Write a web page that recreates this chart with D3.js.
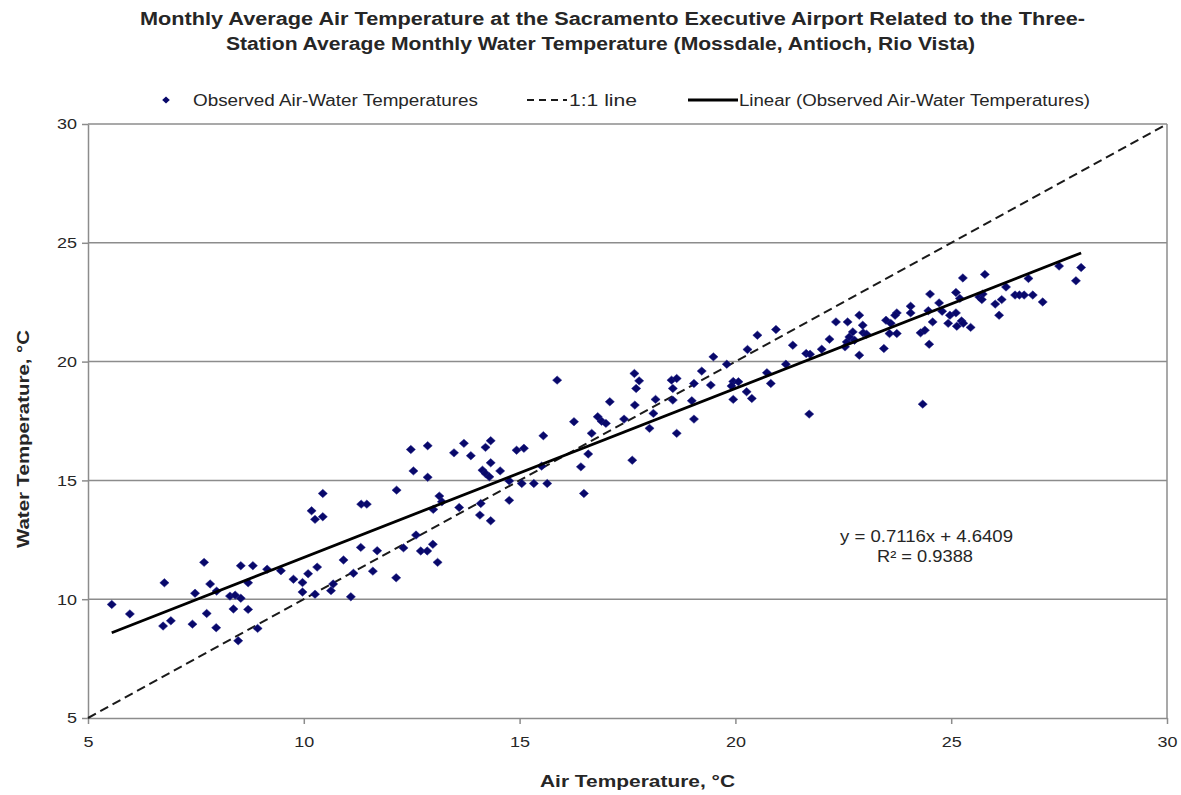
<!DOCTYPE html>
<html><head><meta charset="utf-8">
<script src="https://cdn.jsdelivr.net/npm/d3@7"></script>
<style>
body{margin:0;background:#fff;}
text{font-family:"Liberation Sans",Arial,sans-serif;}
</style></head><body>
<svg id="c" width="1181" height="795"></svg>
<script>
const airTemp = [5.55,5.97,6.77,6.74,6.92,7.69,7.83,7.48,7.98,7.42,7.75,7.97,8.29,8.41,8.54,8.37,8.71,8.48,8.54,8.82,8.71,8.93,9.15,9.47,9.76,
9.97,9.97,10.10,10.31,10.26,10.68,10.63,11.09,11.15,10.92,11.60,11.32,11.70,12.14,12.31,12.60,12.71,12.86,12.99,13.10,
10.18,10.26,10.44,10.44,11.33,11.46,12.15,12.48,12.54,12.87,12.87,13.00,13.14,13.20,13.48,13.60,13.71,13.87,14.10,14.08,14.33,
14.14,14.21,14.30,14.33,14.21,14.33,14.55,14.76,14.76,14.93,15.10,15.05,15.33,15.64,15.55,15.51,
15.87,16.26,16.42,16.49,16.59,16.67,16.81,16.90,17.00,17.09,17.42,17.61,17.66,17.77,17.70,17.67,18.01,18.10,18.15,18.52,18.64,18.55,18.55,18.64,
18.99,19.04,19.04,19.22,19.43,19.49,19.80,19.95,20.07,19.91,19.95,20.26,20.28,
20.38,20.51,20.73,20.82,20.94,21.17,21.33,21.64,21.73,21.71,22.00,22.18,22.33,22.54,22.58,22.60,22.64,22.72,22.76,22.87,22.95,22.96,23.04,22.87,
23.44,23.49,23.60,23.57,23.74,23.74,23.70,24.06,24.06,24.29,24.39,24.34,24.47,24.51,24.49,24.57,24.72,24.79,24.93,
24.97,25.11,25.11,25.20,25.13,25.24,25.28,25.27,25.45,25.65,25.73,25.71,25.78,26.02,26.11,26.17,26.27,26.48,26.58,26.69,26.79,26.89,27.12,27.50,27.89,28.01];
const waterTemp = [9.78,9.38,10.69,8.87,9.09,11.55,10.64,10.25,10.34,8.95,9.40,8.80,10.13,10.17,10.04,9.59,9.57,8.25,11.41,11.41,10.69,8.77,11.26,11.20,10.84,
10.70,10.30,11.07,11.35,10.21,10.64,10.36,10.10,11.09,11.65,11.18,12.18,12.04,10.90,12.16,12.70,12.03,12.03,12.31,11.55,
13.72,13.36,13.47,14.45,14.00,14.00,14.59,16.30,15.40,16.46,15.13,13.78,14.34,14.10,16.16,13.86,16.56,16.04,14.03,13.54,13.30,
15.43,15.29,15.15,15.74,16.39,16.67,15.40,14.98,14.16,16.27,16.35,14.87,14.87,14.87,16.88,15.60,
19.22,17.47,15.57,14.45,16.11,16.98,17.68,17.49,17.40,18.31,17.58,15.85,19.50,19.19,18.87,18.17,17.19,17.82,18.41,19.22,19.29,18.87,18.38,16.98,
18.35,19.08,17.58,19.60,19.01,20.20,19.89,19.16,19.15,18.97,18.41,18.73,20.51,
18.45,21.11,19.53,19.08,21.35,19.89,20.69,20.34,20.31,17.79,20.52,20.94,21.67,20.62,20.83,21.67,21.04,21.25,20.90,21.95,21.53,21.21,21.15,20.27,
20.55,21.74,21.61,21.18,21.18,22.05,21.95,22.33,22.05,21.21,21.32,18.21,22.14,22.84,20.73,21.67,22.47,22.12,21.61,
21.95,22.05,22.91,22.66,21.49,21.71,21.61,23.52,21.44,22.72,22.84,22.61,23.67,22.42,21.95,22.61,23.14,22.80,22.80,22.80,23.50,22.80,22.51,24.02,23.40,23.96];
const trendSlope = 0.7116, trendIntercept = 4.6409, rSquared = 0.9388;
const xTicks = [5,10,15,20,25,30];
const yTicks = [5,10,15,20,25,30];
const titleLines = ["Monthly Average Air Temperature at the Sacramento Executive Airport Related to the Three-",
  "Station Average Monthly Water Temperature (Mossdale, Antioch, Rio Vista)"];
const legendLabels = ["Observed Air-Water Temperatures","1:1 line","Linear (Observed Air-Water Temperatures)"];
const xTitle = "Air Temperature, °C", yTitle = "Water Temperature, °C";

const svg = d3.select("#c");
const L=88,R=1167,T=124,B=718;
const x = d3.scaleLinear().domain([5,30]).range([L,R]);
const y = d3.scaleLinear().domain([5,30]).range([B,T]);
const col = "#262626";

// text helper: stretched text to match the wide rendering of the reference
function txt(g, s, cx, by, size, width, bold, anchor){
  return g.append("text").attr("x",cx).attr("y",by).attr("text-anchor",anchor||"middle")
    .attr("font-size",size).attr("font-weight",bold?"bold":"normal").attr("fill",col)
    .attr("textLength",width).attr("lengthAdjust","spacingAndGlyphs").text(s);
}

// title
txt(svg, titleLines[0], 612.5, 25, 18, 945, true);
txt(svg, titleLines[1], 600.5, 50, 18, 749, true);

// gridlines
svg.append("g").selectAll("line").data(yTicks.filter(v=>v>5)).join("line")
  .attr("x1",L).attr("x2",R).attr("y1",d=>y(d)).attr("y2",d=>y(d))
  .attr("stroke","#8c8c8c").attr("stroke-width",1.5);
svg.append("line").attr("x1",R).attr("x2",R).attr("y1",T).attr("y2",B).attr("stroke","#8c8c8c").attr("stroke-width",1.5);

// axes
const xAxis = svg.append("g").attr("transform",`translate(0,${B})`)
  .call(d3.axisBottom(x).tickValues(xTicks).tickSize(6).tickSizeOuter(0));
const yAxis = svg.append("g").attr("transform",`translate(${L},0)`)
  .call(d3.axisLeft(y).tickValues(yTicks).tickSize(6).tickSizeOuter(0));
[xAxis,yAxis].forEach(a=>{
  a.select(".domain").attr("stroke","#8c8c8c").attr("stroke-width",1.5);
  a.selectAll(".tick line").attr("stroke","#8c8c8c").attr("stroke-width",1.5);
  a.selectAll(".tick text").attr("font-size",15).attr("fill",col)
    .attr("font-family","Liberation Sans, Arial, sans-serif")
    .attr("textLength",d=>String(d).length*10).attr("lengthAdjust","spacingAndGlyphs");
});
xAxis.selectAll(".tick text").attr("dy","1.35em");
yAxis.selectAll(".tick text").attr("x",-11);

// 1:1 line
svg.append("line").attr("x1",x(5)).attr("y1",y(5)).attr("x2",x(30)).attr("y2",y(30))
  .attr("stroke","#1a1a1a").attr("stroke-width",2).attr("stroke-dasharray","9,5");

// points
const pts = airTemp.map((a,i)=>({a,w:waterTemp[i]}));
const dia = "M0,-4.2L4.6,0L0,4.2L-4.6,0Z";
svg.append("g").selectAll("path").data(pts).join("path")
  .attr("d",dia).attr("transform",d=>`translate(${x(d.a)},${y(d.w)})`)
  .attr("fill","#08086a").attr("stroke","#23238a").attr("stroke-width",0.5);

// trend line
const xmin=d3.min(airTemp), xmax=d3.max(airTemp);
svg.append("line").attr("x1",x(xmin)).attr("y1",y(trendSlope*xmin+trendIntercept))
  .attr("x2",x(xmax)).attr("y2",y(trendSlope*xmax+trendIntercept))
  .attr("stroke","#000").attr("stroke-width",2.8);

// equation
txt(svg, `y = ${trendSlope}x + ${trendIntercept}`, 926.5, 542, 16, 173, false);
txt(svg, `R² = ${rSquared}`, 925, 562, 16, 96, false);

// legend
const lg = svg.append("g");
lg.append("path").attr("d","M0,-3.5L3.8,0L0,3.5L-3.8,0Z").attr("transform","translate(166,100)").attr("fill","#08086a");
txt(lg, legendLabels[0], 193, 106, 16, 285, false, "start");
lg.append("line").attr("x1",527).attr("x2",567).attr("y1",100).attr("y2",100).attr("stroke","#1a1a1a").attr("stroke-width",2).attr("stroke-dasharray","7,5");
txt(lg, legendLabels[1], 569, 106, 16, 68, false, "start");
lg.append("line").attr("x1",688).attr("x2",738).attr("y1",100).attr("y2",100).attr("stroke","#000").attr("stroke-width",2.8);
txt(lg, legendLabels[2], 739, 106, 16, 351, false, "start");

// axis titles
txt(svg, xTitle, 637.5, 787, 17, 195, true);
const yt = svg.append("g").attr("transform","translate(29,439) rotate(-90)");
txt(yt, yTitle, 0, 0, 17, 218, true);
</script></body></html>
